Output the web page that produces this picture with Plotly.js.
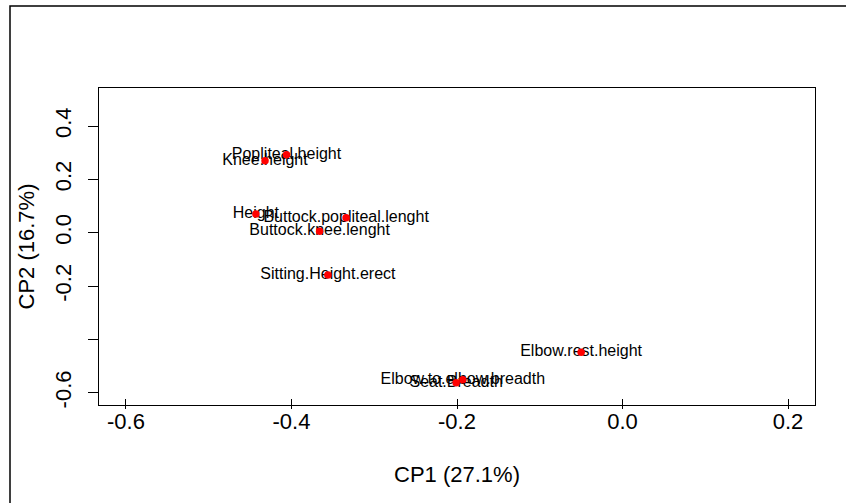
<!DOCTYPE html>
<html>
<head>
<meta charset="utf-8">
<script src="https://cdn.plot.ly/plotly-3.0.1.min.js"></script>
<style>html,body{margin:0;padding:0;background:#fff;}#chart{width:846px;height:503px;}</style>
</head>
<body>
<div id="chart"></div>
<script>
// Variable names and their loadings on CP1 / CP2
const variables = [
  "Popliteal.height",
  "Knee.height",
  "Height",
  "Buttock.popliteal.lenght",
  "Buttock.knee.lenght",
  "Sitting.Height.erect",
  "Elbow.rest.height",
  "Elbow.to.elbow.breadth",
  "Seat.Breadth"
];
const cp1 = [-0.406, -0.432, -0.443, -0.334, -0.366, -0.356, -0.050, -0.193, -0.201];
const cp2 = [0.292, 0.270, 0.070, 0.056, 0.005, -0.159, -0.448, -0.551, -0.563];

const xTickVals = [-0.6, -0.4, -0.2, 0.0, 0.2];
const xTickText = ["-0.6", "-0.4", "-0.2", "0.0", "0.2"];
const yTickVals = [-0.6, -0.4, -0.2, 0.0, 0.2, 0.4];
const yTickText = ["-0.6", "", "-0.2", "0.0", "0.2", "0.4"];

const xTitle = "CP1 (27.1%)";
const yTitle = "CP2 (16.7%)";

const FONT = "Liberation Sans, Arial, sans-serif";

const traces = [
  {
    x: cp1, y: cp2, text: variables,
    type: "scatter", mode: "text",
    textposition: "middle center",
    textfont: {family: FONT, size: 16, color: "#000"},
    hoverinfo: "skip", showlegend: false
  },
  {
    x: cp1, y: cp2,
    type: "scatter", mode: "markers",
    marker: {color: "#ff0000", size: 7.5, line: {width: 0}},
    showlegend: false
  }
];

const W = 846, H = 503;
const mL = 99, mR = 31, mT = 88, mB = 98;
const pw = W - mL - mR, ph = H - mT - mB;

const layout = {
  width: W, height: H,
  margin: {l: mL, r: mR, t: mT, b: mB, pad: 0},
  paper_bgcolor: "#fff", plot_bgcolor: "#fff",
  font: {family: FONT, color: "#000", size: 22},
  showlegend: false,
  xaxis: {
    range: [-0.6326, 0.2326],
    tickvals: xTickVals, ticktext: xTickText,
    ticks: "outside", ticklen: 10, tickwidth: 1, tickcolor: "#000",
    showline: true, linecolor: "#000", linewidth: 1, mirror: true,
    showgrid: false, zeroline: false,
    tickfont: {family: FONT, size: 22, color: "#000"},
    ticklabelstandoff: -6,
    title: {text: xTitle, font: {family: FONT, size: 22, color: "#000"}, standoff: 26},
    automargin: false
  },
  yaxis: {
    range: [-0.646, 0.5425],
    tickvals: yTickVals, ticktext: yTickText,
    ticks: "outside", ticklen: 10, tickwidth: 1, tickcolor: "#000",
    showline: true, linecolor: "#000", linewidth: 1, mirror: true,
    showgrid: false, zeroline: false,
    tickangle: -90,
    tickfont: {family: FONT, size: 22, color: "#000"},
    ticklabelstandoff: 8,
    title: {text: yTitle, font: {family: FONT, size: 22, color: "#000"}, standoff: 10},
    automargin: false
  },
  shapes: [{
    type: "rect", xref: "paper", yref: "paper",
    x0: (10 - mL) / pw, x1: (W + 20 - mL) / pw,
    y0: -(H + 20 - mT - ph) / ph, y1: 1 + (mT - 6) / ph,
    line: {color: "#000", width: 1.5}, fillcolor: "rgba(0,0,0,0)", layer: "below"
  }]
};

function nudgeXTicks(gd) {
  // move x tick labels a little closer to the axis, as in the reference
  gd.querySelectorAll(".xtick").forEach(function (g) {
    const base = g.getAttribute("data-base-transform");
    const cur = base !== null ? base : (g.getAttribute("transform") || "");
    g.setAttribute("data-base-transform", cur);
    g.setAttribute("transform", cur + " translate(0,-7)");
  });
}

Plotly.newPlot("chart", traces, layout, {displayModeBar: false, staticPlot: true}).then(function (gd) {
  nudgeXTicks(gd);
});
</script>
</body>
</html>
